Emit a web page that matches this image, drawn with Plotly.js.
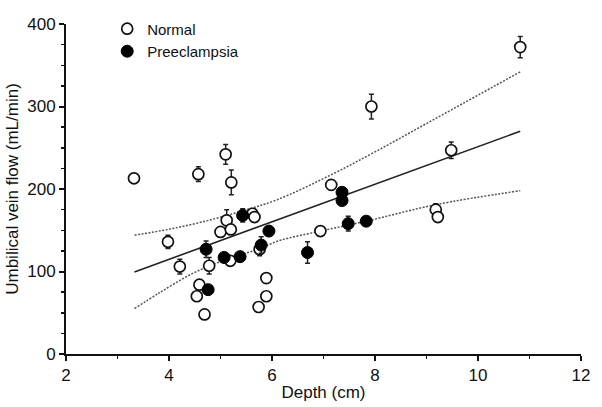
<!DOCTYPE html>
<html>
<head>
<meta charset="utf-8">
<script src="https://cdn.plot.ly/plotly-3.0.1.min.js"></script>
<style>html,body{margin:0;padding:0;background:#fff;}#chart{width:602px;height:407px;}</style>
</head>
<body>
<div id="chart"></div>
<script>
// Normal group
const normalDepth = [3.32, 3.98, 4.21, 4.57, 5.10, 5.21, 7.93, 10.82, 9.48, 7.15, 5.12, 5.00, 5.20, 5.62, 5.66, 4.78, 5.19, 5.76, 4.59, 4.54, 4.69, 5.89, 5.89, 5.74, 6.94, 9.18, 9.22];
const normalFlow  = [213, 136, 106, 218, 242, 208, 300, 372, 247, 205, 162, 148, 151, 170, 166, 107, 113, 127, 84, 70, 48, 92, 70, 57, 149, 175, 166];
const normalErr   = [0, 8, 9, 9, 12, 15, 15, 13, 10, 6, 13, 0, 0, 5, 4, 10, 0, 8, 0, 0, 0, 0, 0, 0, 0, 7, 5];
// Preeclampsia group
const preDepth = [4.72, 5.07, 5.38, 5.43, 5.94, 5.79, 4.76, 7.36, 7.36, 7.48, 7.83, 6.69];
const preFlow  = [127, 117, 118, 168, 149, 132, 78, 196, 186, 158, 161, 123];
const preErr   = [10, 4, 4, 8, 5, 10, 3, 5, 5, 9, 5, 13];
// Regression line and 95% confidence band
const fitX = [3.33, 10.82];
const fitY = [99.5, 270];
const upperX = [3.33, 3.98, 4.64, 5.40, 6.10, 7.14, 8.00, 8.99, 10.82];
const upperY = [144, 151, 160, 173, 187, 217, 245, 279, 342];
const lowerX = [3.33, 3.81, 4.47, 5.13, 5.73, 6.12, 6.94, 7.83, 9.18, 10.82];
const lowerY = [55, 74, 98, 115, 127, 137, 149, 161, 181, 198];
// Axis ticks
const xTicks = [2, 4, 6, 8, 10, 12];
const yTicks = [0, 100, 200, 300, 400];

const dotLine = {color: '#555', width: 1.5, dash: '2px,1.5px', shape: 'spline'};
const traces = [
  {x: upperX, y: upperY, mode: 'lines', line: dotLine, showlegend: false, hoverinfo: 'skip'},
  {x: lowerX, y: lowerY, mode: 'lines', line: dotLine, showlegend: false, hoverinfo: 'skip'},
  {x: fitX, y: fitY, mode: 'lines', line: {color: '#222', width: 1.6}, showlegend: false, hoverinfo: 'skip'},
  {x: normalDepth, y: normalFlow, name: 'Normal', mode: 'markers', type: 'scatter',
   marker: {symbol: 'circle', size: 11, color: '#fff', line: {color: '#111', width: 1.7}},
   error_y: {type: 'data', array: normalErr, visible: true, color: '#222', thickness: 1.5, width: 2.5}},
  {x: preDepth, y: preFlow, name: 'Preeclampsia', mode: 'markers', type: 'scatter',
   marker: {symbol: 'circle', size: 12, color: '#000', line: {color: '#000', width: 1}},
   error_y: {type: 'data', array: preErr, visible: true, color: '#222', thickness: 1.5, width: 2.5}}
];

const axisCommon = {
  showgrid: false, zeroline: false, showline: true, linecolor: '#111', linewidth: 2,
  ticks: 'outside', ticklen: 5, tickwidth: 2, tickcolor: '#111',
  tickfont: {family: 'Liberation Sans, Arial, sans-serif', size: 17, color: '#111'}
};

const layout = {
  width: 602, height: 407,
  margin: {l: 66, r: 21, t: 20, b: 53},
  paper_bgcolor: '#fff', plot_bgcolor: '#fff',
  font: {family: 'Liberation Sans, Arial, sans-serif', color: '#111'},
  xaxis: Object.assign({}, axisCommon, {
    range: [2, 12], tickvals: xTicks, ticktext: xTicks.map(String),
    minor: {dtick: 1, ticks: 'outside', ticklen: 3, tickwidth: 1.5, tickcolor: '#111'},
    title: {text: 'Depth (cm)', font: {size: 17, color: '#111'}, standoff: 2}
  }),
  yaxis: Object.assign({}, axisCommon, {
    range: [0, 400], tickvals: yTicks, ticktext: yTicks.map(String),
    minor: {dtick: 25, ticks: 'outside', ticklen: 3, tickwidth: 1.5, tickcolor: '#111'},
    title: {text: 'Umbilical vein flow (mL/min)', font: {size: 17, color: '#111'}, standoff: 4}
  }),
  showlegend: true,
  legend: {x: 0.08, y: 1.035, xanchor: 'left', yanchor: 'top', bgcolor: 'rgba(0,0,0,0)',
           font: {size: 15, color: '#111'}, tracegroupgap: 0}
};

Plotly.newPlot('chart', traces, layout, {staticPlot: true, displayModeBar: false});
</script>
</body>
</html>
